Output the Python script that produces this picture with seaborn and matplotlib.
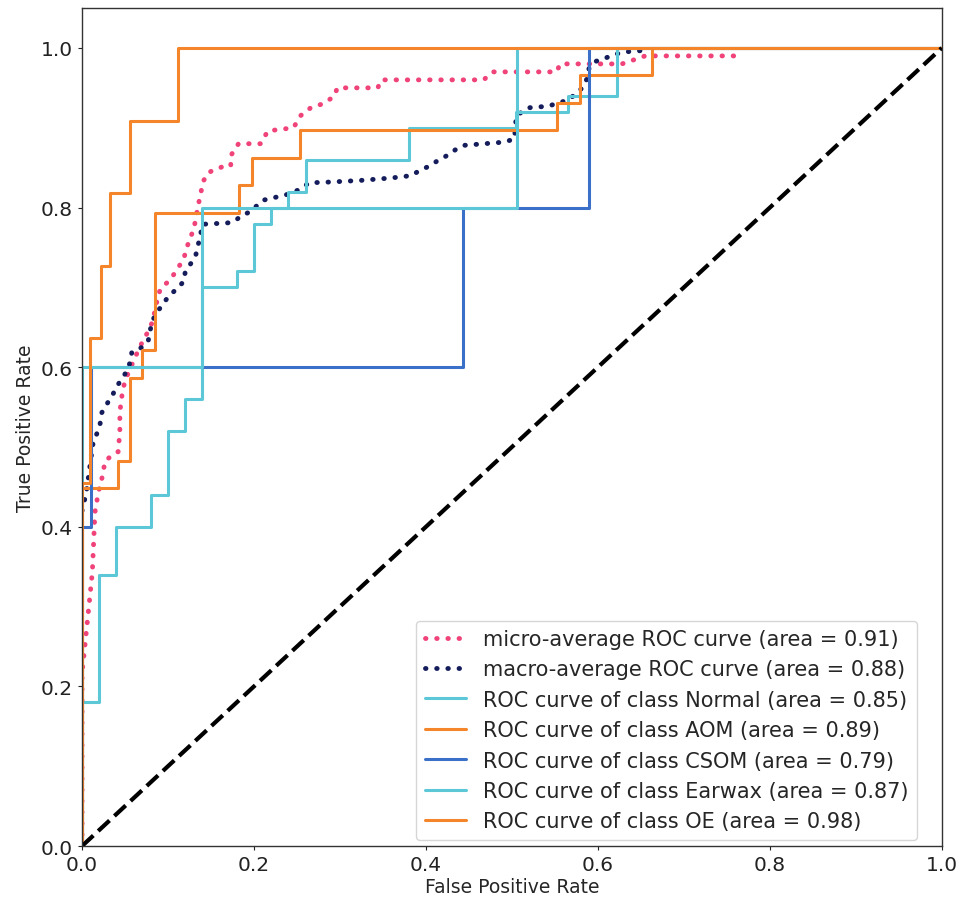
import matplotlib
matplotlib.use("Agg")
import matplotlib.pyplot as plt
import seaborn as sns

# ROC curve corner points
micro_fpr = [0, 0, 0.001, 0.012, 0.015, 0.019, 0.023, 0.027, 0.036, 0.042,
             0.044, 0.044, 0.047, 0.05, 0.062, 0.068, 0.077, 0.082, 0.087, 0.091,
             0.103, 0.118, 0.124, 0.13, 0.135, 0.141, 0.147, 0.163, 0.173, 0.173,
             0.182, 0.208, 0.216, 0.246, 0.254, 0.266, 0.28, 0.293, 0.297, 0.344,
             0.348, 0.467, 0.478, 0.552, 0.556, 0.581, 0.628, 0.655, 0.762]
micro_tpr = [0, 0.22, 0.226, 0.343, 0.418, 0.443, 0.46, 0.483, 0.49, 0.494,
             0.519, 0.544, 0.569, 0.583, 0.613, 0.627, 0.645, 0.657, 0.682, 0.698,
             0.71, 0.735, 0.757, 0.773, 0.802, 0.833, 0.844, 0.851, 0.852, 0.865,
             0.88, 0.88, 0.896, 0.90, 0.915, 0.925, 0.93, 0.939, 0.95, 0.95,
             0.96, 0.96, 0.97, 0.97, 0.98, 0.98, 0.98, 0.99, 0.99]

macro_fpr = [0, 0.002, 0.005, 0.013, 0.017, 0.021, 0.023, 0.029, 0.035, 0.040,
             0.046, 0.054, 0.056, 0.058, 0.07, 0.077, 0.079, 0.081, 0.087, 0.093,
             0.1, 0.11, 0.118, 0.12, 0.126, 0.132, 0.138, 0.14, 0.153, 0.165,
             0.176, 0.186, 0.196, 0.21, 0.221, 0.235, 0.254, 0.264, 0.289, 0.324,
             0.359, 0.383, 0.392, 0.404, 0.414, 0.426, 0.435, 0.445, 0.468, 0.491,
             0.503, 0.505, 0.519, 0.542, 0.566, 0.583, 0.587, 0.59, 0.597, 0.608,
             0.62, 0.631, 0.643, 0.655]
macro_tpr = [0.42, 0.429, 0.443, 0.506, 0.516, 0.529, 0.543, 0.554, 0.564, 0.575,
             0.585, 0.598, 0.608, 0.619, 0.625, 0.633, 0.644, 0.656, 0.669, 0.677,
             0.688, 0.698, 0.707, 0.719, 0.729, 0.739, 0.767, 0.779, 0.78, 0.78,
             0.782, 0.79, 0.795, 0.809, 0.812, 0.815, 0.823, 0.831, 0.832, 0.834,
             0.837, 0.84, 0.846, 0.852, 0.859, 0.866, 0.873, 0.878, 0.88, 0.882,
             0.886, 0.915, 0.925, 0.927, 0.935, 0.951, 0.961, 0.976, 0.983, 0.987,
             0.992, 0.995, 0.996, 0.997]

normal_fpr = [0, 0, 0.02, 0.02, 0.04, 0.04, 0.08, 0.08, 0.10, 0.10, 0.12, 0.12,
              0.14, 0.14, 0.18, 0.18, 0.20, 0.20, 0.22, 0.22, 0.24, 0.24, 0.26, 0.26,
              0.38, 0.38, 0.505, 0.505, 0.565, 0.565, 0.622, 0.622, 1.0]
normal_tpr = [0, 0.18, 0.18, 0.34, 0.34, 0.40, 0.40, 0.44, 0.44, 0.52, 0.52, 0.56,
              0.56, 0.70, 0.70, 0.72, 0.72, 0.78, 0.78, 0.80, 0.80, 0.82, 0.82, 0.86,
              0.86, 0.90, 0.90, 0.92, 0.92, 0.94, 0.94, 1.0, 1.0]

aom_fpr = [0, 0, 0.042, 0.042, 0.056, 0.056, 0.07, 0.07, 0.085, 0.085, 0.182, 0.182,
           0.198, 0.198, 0.254, 0.254, 0.552, 0.552, 0.579, 0.579, 0.663, 0.663, 1.0]
aom_tpr = [0, 0.448, 0.448, 0.483, 0.483, 0.586, 0.586, 0.621, 0.621, 0.793, 0.793, 0.828,
           0.828, 0.862, 0.862, 0.897, 0.897, 0.931, 0.931, 0.966, 0.966, 1.0, 1.0]

csom_fpr = [0, 0, 0.01, 0.01, 0.443, 0.443, 0.59, 0.59, 1.0]
csom_tpr = [0, 0.4, 0.4, 0.6, 0.6, 0.8, 0.8, 1.0, 1.0]

earwax_fpr = [0, 0, 0.14, 0.14, 0.506, 0.506, 1.0]
earwax_tpr = [0, 0.6, 0.6, 0.8, 0.8, 1.0, 1.0]

oe_fpr = [0, 0, 0.009, 0.009, 0.022, 0.022, 0.033, 0.033, 0.056, 0.056, 0.112, 0.112, 1.0]
oe_tpr = [0, 0.455, 0.455, 0.636, 0.636, 0.727, 0.727, 0.818, 0.818, 0.909, 0.909, 1.0, 1.0]

class_names = ["Normal", "AOM", "CSOM", "Earwax", "OE"]
class_areas = [0.85, 0.89, 0.79, 0.87, 0.98]
class_curves = [(normal_fpr, normal_tpr), (aom_fpr, aom_tpr), (csom_fpr, csom_tpr),
                (earwax_fpr, earwax_tpr), (oe_fpr, oe_tpr)]
class_colors = ["#5cc8d7", "#f4852a", "#3b70c8", "#5cc8d7", "#f4852a"]

sns.set_style("ticks")
plt.rcParams["font.family"] = ["DejaVu Sans"]
plt.rcParams["font.size"] = 14

fig = plt.figure(figsize=(9.65, 9.03), dpi=100)
ax = fig.add_axes([0.085, 0.062, 0.891, 0.928])

dotted = (0, (0.1, 2.2))
sns.lineplot(x=micro_fpr, y=micro_tpr, sort=False, estimator=None, ax=ax,
             color="#f0437a", linestyle=dotted, linewidth=3.5, dash_capstyle="round",
             label="micro-average ROC curve (area = 0.91)")
sns.lineplot(x=macro_fpr, y=macro_tpr, sort=False, estimator=None, ax=ax,
             color="#141c5c", linestyle=dotted, linewidth=3.5, dash_capstyle="round",
             label="macro-average ROC curve (area = 0.88)")

for name, area, (fpr, tpr), col in zip(class_names, class_areas, class_curves, class_colors):
    sns.lineplot(x=fpr, y=tpr, sort=False, estimator=None, ax=ax,
                 color=col, linewidth=2.2,
                 label=f"ROC curve of class {name} (area = {area:.2f})")

ax.plot([0, 1], [0, 1], "k--", lw=3)

ax.set_xlim(0.0, 1.0)
ax.set_ylim(0.0, 1.05)
ax.set_xticks([0, 0.2, 0.4, 0.6, 0.8, 1.0])
ax.set_yticks([0, 0.2, 0.4, 0.6, 0.8, 1.0])
ax.set_xlabel("False Positive Rate", fontsize=13.5, labelpad=2)
ax.set_ylabel("True Positive Rate", fontsize=13.5, labelpad=4)
ax.tick_params(labelsize=14.5, colors="#222222", length=3)
for sp in ax.spines.values():
    sp.set_color("#333333")
    sp.set_linewidth(1.0)

ax.legend(loc="lower right", fontsize=15, bbox_to_anchor=(0.983, -0.005))

fig.savefig("out.png", dpi=100)
